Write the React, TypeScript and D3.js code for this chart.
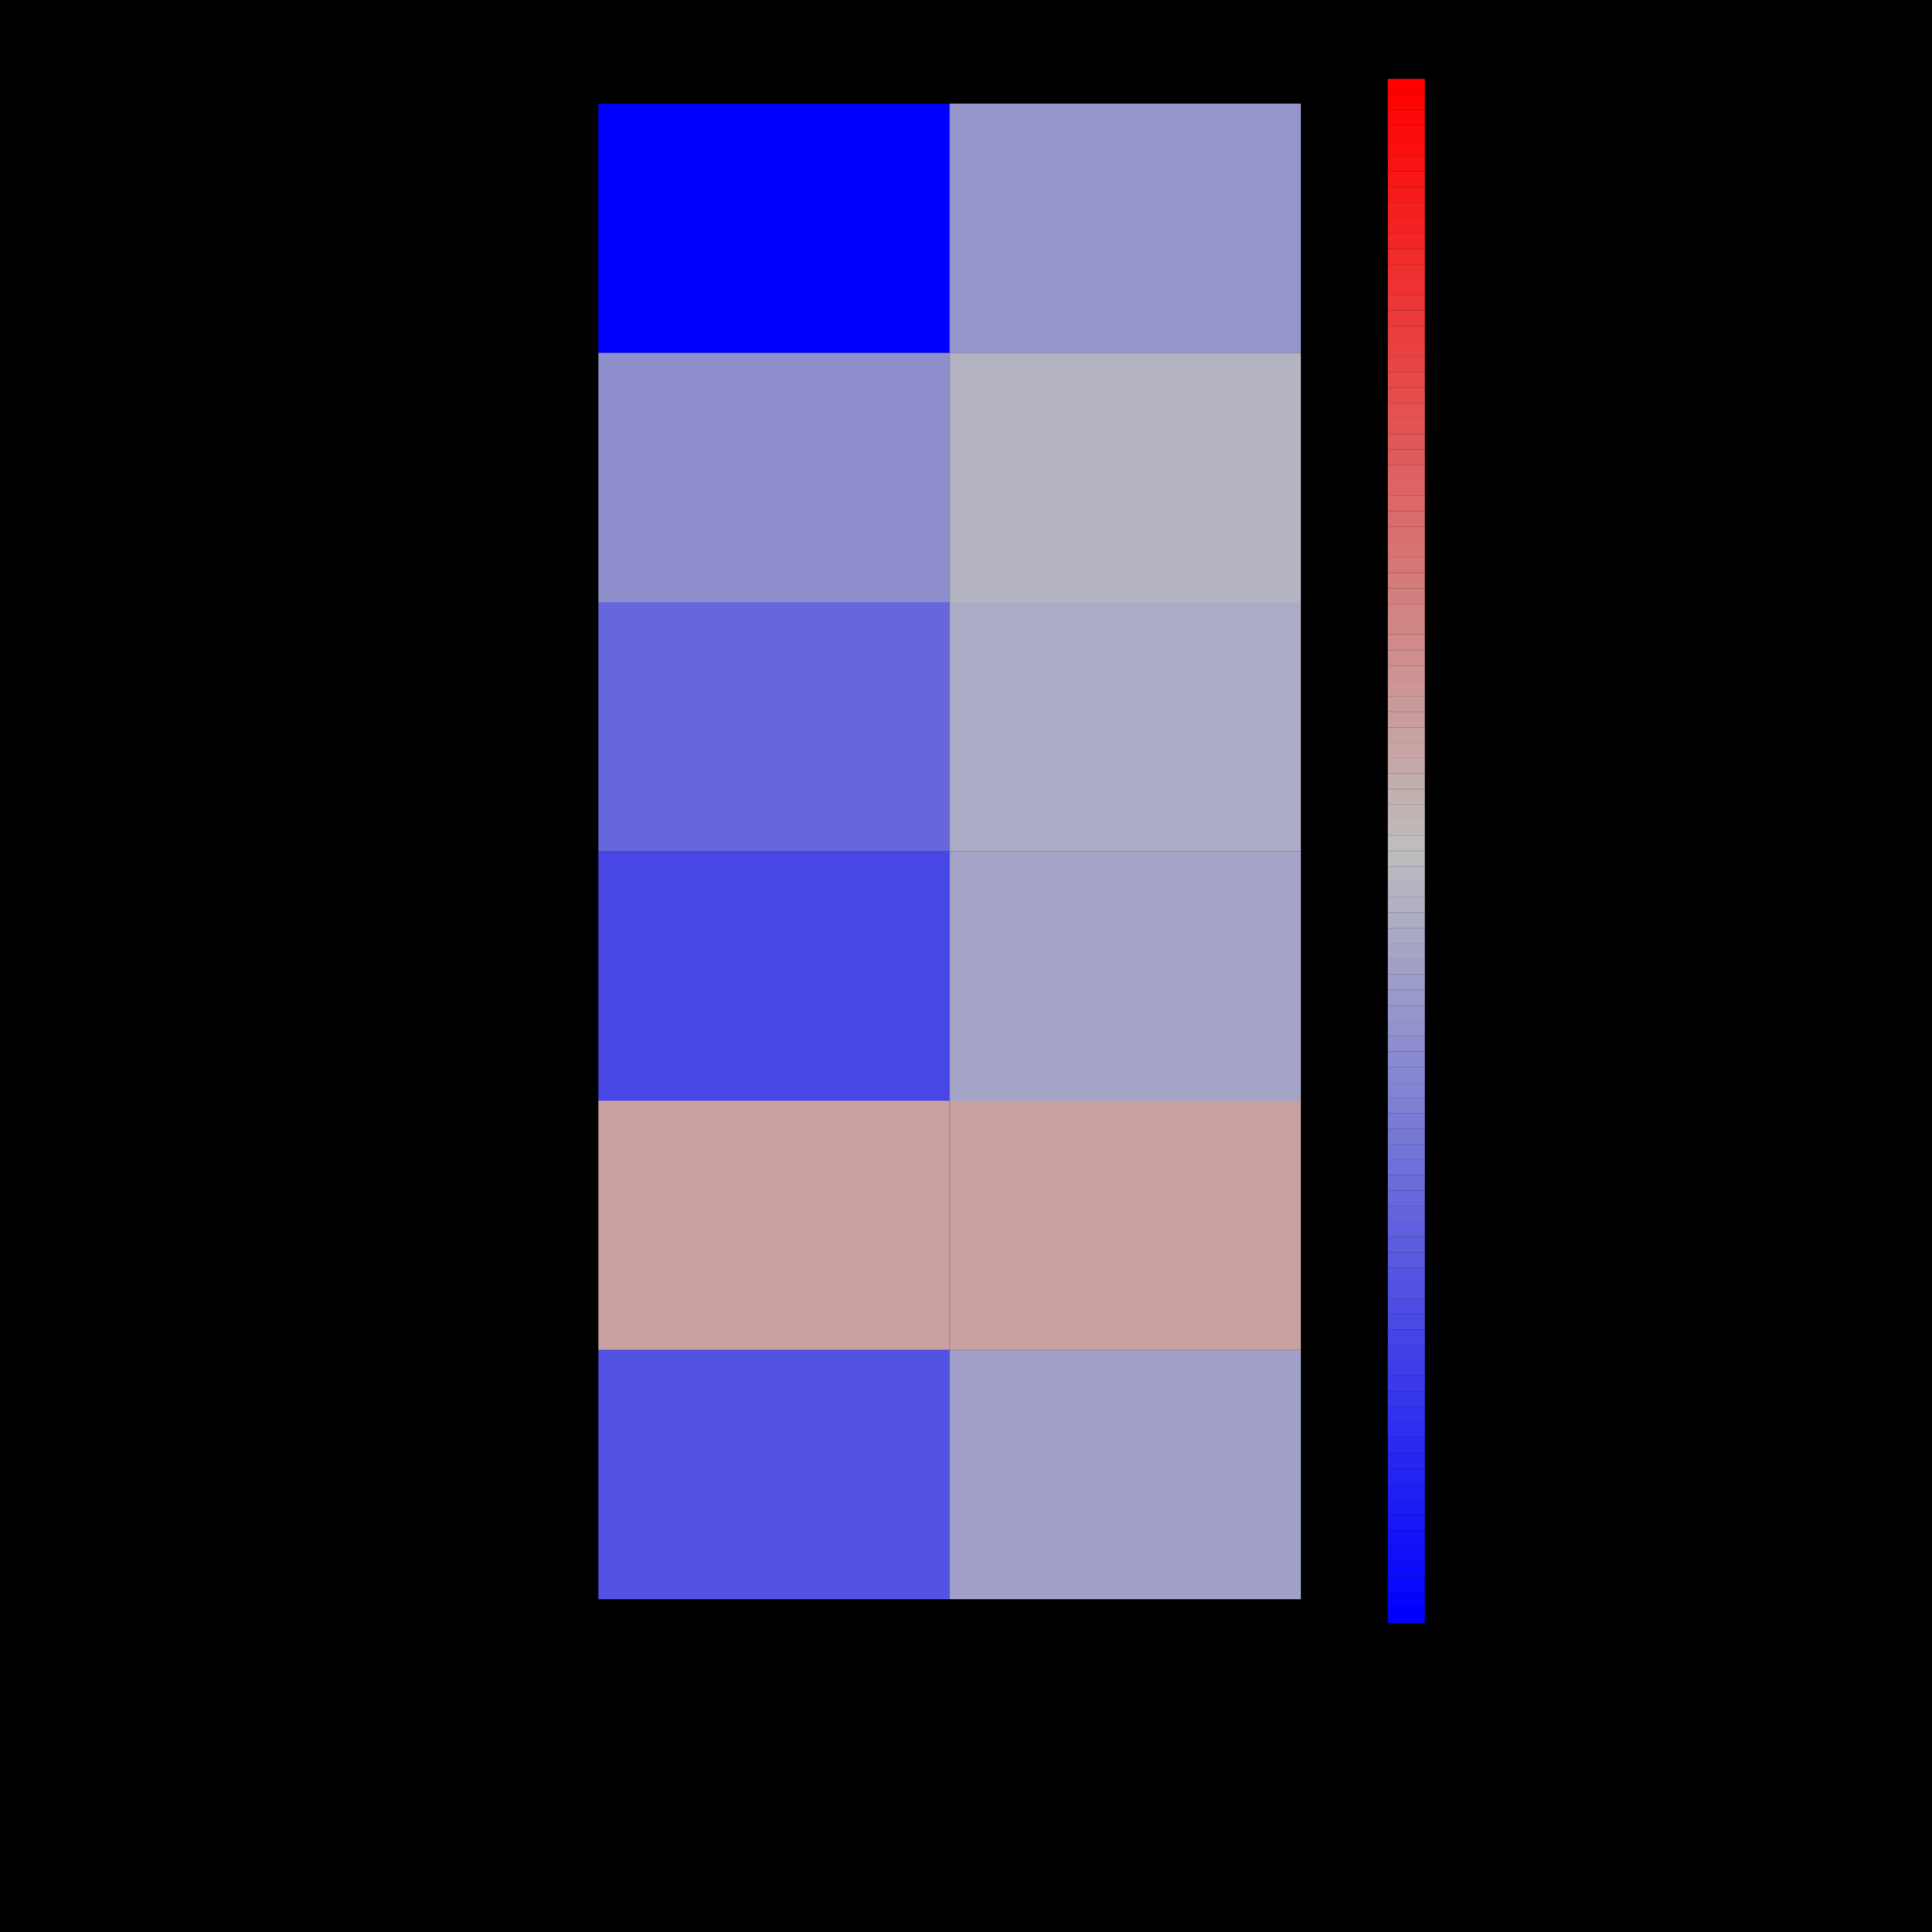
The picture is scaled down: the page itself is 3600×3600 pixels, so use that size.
import React from 'react';
import * as d3 from 'd3';

// two columns, six rows, values on a -1..1 scale
const columns = ['A', 'B'];
const rows = ['r1', 'r2', 'r3', 'r4', 'r5', 'r6'];
const colA = [-1.0, -0.248, -0.458, -0.622, 0.16, -0.568];
const colB = [-0.216, -0.058, -0.1, -0.136, 0.16, -0.158];
const rampStops = ['#0000FF', '#BEBEBE', '#FF0000'];
const nSteps = 100;

const W = 3600;
const H = 3600;

const App: React.FC = () => {
  const x = d3.scaleBand<string>().domain(columns).range([1115, 2424]).padding(0);
  const y = d3.scaleBand<string>().domain(rows).range([193, 2980]).padding(0);
  const ramp = d3.piecewise(d3.interpolateRgb, rampStops);
  const color = d3.scaleSequential(ramp).domain([-1, 1]);

  const steps = d3.range(nSteps);
  const barY = d3.scaleBand<number>().domain(steps.slice().reverse()).range([147, 3024]).padding(0);

  const cells = rows.flatMap((r, i) => [
    { row: r, col: columns[0], v: colA[i] },
    { row: r, col: columns[1], v: colB[i] },
  ]);

  return (
    <svg
      width={W}
      height={H}
      style={{ position: 'absolute', left: 0, top: 0, background: '#000' }}
    >
      <rect x={0} y={0} width={W} height={H} fill="#000" />
      <g>
        {cells.map((c) => (
          <rect
            key={c.row + c.col}
            x={x(c.col)}
            y={y(c.row)}
            width={x.bandwidth()}
            height={y.bandwidth()}
            fill={color(c.v)}
          />
        ))}
      </g>
      <g>
        {steps.map((s) => (
          <rect
            key={s}
            x={2586}
            y={barY(s)}
            width={69}
            height={barY.bandwidth()}
            fill={ramp(s / (nSteps - 1))}
          />
        ))}
      </g>
    </svg>
  );
};

export default App;
